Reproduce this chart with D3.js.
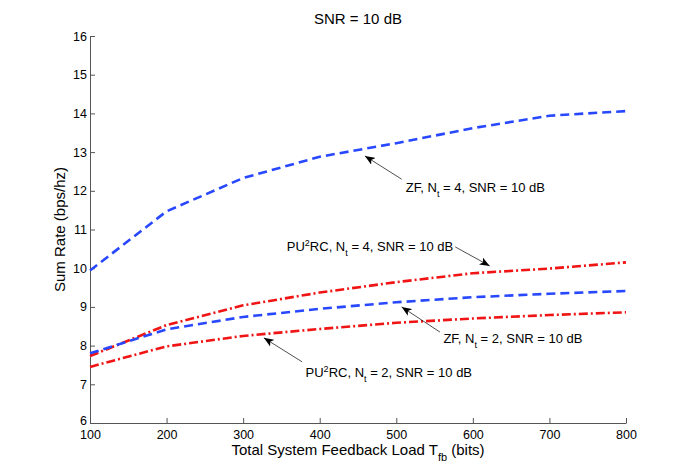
<!DOCTYPE html>
<html>
<head>
<meta charset="utf-8">
<script src="https://cdn.jsdelivr.net/npm/d3@7"></script>
<style>
  body { margin: 0; background: #fff; }
  text { font-family: "Liberation Sans", Arial, Helvetica, sans-serif; }
</style>
</head>
<body>
<div id="chart"></div>
<script>
// feedback load (bits) on the x axis
const feedbackBits = [100, 200, 300, 400, 500, 600, 700, 800];

// sum rate values
const zfNt4 = [9.94, 11.47, 12.33, 12.88, 13.23, 13.62, 13.94, 14.06];
const zfNt2 = [7.80, 8.42, 8.74, 8.95, 9.12, 9.25, 9.34, 9.41];
const pu2rcNt4 = [7.73, 8.53, 9.04, 9.37, 9.64, 9.87, 9.99, 10.15];
const pu2rcNt2 = [7.45, 7.98, 8.25, 8.43, 8.59, 8.70, 8.79, 8.86];

const xTicks = [100, 200, 300, 400, 500, 600, 700, 800];
const yTicks = [6, 7, 8, 9, 10, 11, 12, 13, 14, 15, 16];

// annotation text + arrow (head / tail in data units)
const notes = [
  { pre: "ZF, N", sup: null, mid: "", nt: "4", head: [459, 12.90], tail: [507, 12.30], text: [512.5, 11.98] },
  { pre: "PU", sup: "2", mid: "RC, N", nt: "4", head: [622, 10.06], tail: [577, 10.55], text: [357, 10.45] },
  { pre: "ZF, N", sup: null, mid: "", nt: "2", head: [507, 9.00], tail: [557, 8.35], text: [561.5, 8.07] },
  { pre: "PU", sup: "2", mid: "RC, N", nt: "2", head: [327, 8.20], tail: [377, 7.58], text: [381.5, 7.19] }
];

const width = 692;
const height = 476;
const margin = { top: 36, right: 66, bottom: 53, left: 90 };

const svg = d3.select("#chart")
  .append("svg")
  .attr("width", width)
  .attr("height", height)
  .style("background", "#fff");

const x = d3.scaleLinear().domain([100, 800]).range([margin.left, width - margin.right]);
const y = d3.scaleLinear().domain([6, 16]).range([height - margin.bottom, margin.top]);

// arrow head
const defs = svg.append("defs");
defs.append("marker")
  .attr("id", "arrow")
  .attr("viewBox", "0 0 10 8")
  .attr("refX", 10)
  .attr("refY", 4)
  .attr("markerUnits", "userSpaceOnUse")
  .attr("markerWidth", 10)
  .attr("markerHeight", 8)
  .attr("orient", "auto")
  .append("path")
  .attr("d", "M0,0 L10,4 L0,8 L2.5,4 Z")
  .attr("fill", "#000");

// axes, MATLAB style ticks pointing inward
const xAxis = svg.append("g")
  .attr("transform", `translate(0,${y(6)})`)
  .call(d3.axisBottom(x).tickValues(xTicks).tickSize(-5).tickSizeOuter(0).tickPadding(7));

const yAxis = svg.append("g")
  .attr("transform", `translate(${x(100)},0)`)
  .call(d3.axisLeft(y).tickValues(yTicks).tickSize(-5).tickSizeOuter(0).tickPadding(3));

[xAxis, yAxis].forEach(g => {
  g.select(".domain").attr("stroke", "#555");
  g.selectAll(".tick line").attr("stroke", "#555");
  g.selectAll(".tick text")
    .attr("fill", "#000")
    .style("font-size", "12.5px");
});

// lowest y label sits a touch higher, as in the original
yAxis.selectAll(".tick text").filter(d => d === 6).attr("dy", "0.1em");

// series
const line = d3.line()
  .x((d, i) => x(feedbackBits[i]))
  .y(d => y(d));

const series = [
  { values: pu2rcNt4, color: "#f01414", dash: "9,3,2,3" },
  { values: pu2rcNt2, color: "#f01414", dash: "9,3,2,3" },
  { values: zfNt2, color: "#2848ff", dash: "9,5" },
  { values: zfNt4, color: "#2848ff", dash: "9,5" }
];

series.forEach(s => {
  svg.append("path")
    .datum(s.values)
    .attr("d", line)
    .attr("fill", "none")
    .attr("stroke", s.color)
    .attr("stroke-width", 2.6)
    .attr("stroke-dasharray", s.dash);
});

// annotations
notes.forEach(n => {
  svg.append("line")
    .attr("x1", x(n.tail[0]))
    .attr("y1", y(n.tail[1]))
    .attr("x2", x(n.head[0]))
    .attr("y2", y(n.head[1]))
    .attr("stroke", "#222")
    .attr("stroke-width", 0.8)
    .attr("marker-end", "url(#arrow)");

  const t = svg.append("text")
    .attr("x", x(n.text[0]))
    .attr("y", y(n.text[1]))
    .style("font-size", "13px")
    .attr("fill", "#000");
  t.append("tspan").text(n.pre);
  if (n.sup) {
    t.append("tspan").attr("dy", -5).style("font-size", "9px").text(n.sup);
    t.append("tspan").attr("dy", 5).text(n.mid);
  }
  t.append("tspan").attr("dy", 5).style("font-size", "9px").text("t");
  t.append("tspan").attr("dy", -5).text(` = ${n.nt}, SNR = 10 dB`);
});

// title and axis labels
svg.append("text")
  .attr("x", (x(100) + x(800)) / 2)
  .attr("y", 24)
  .attr("text-anchor", "middle")
  .style("font-size", "15px")
  .text("SNR = 10 dB");

const xl = svg.append("text")
  .attr("x", (x(100) + x(800)) / 2)
  .attr("y", 455)
  .attr("text-anchor", "middle")
  .style("font-size", "15px");
xl.append("tspan").text("Total System Feedback Load T");
xl.append("tspan").attr("dy", 6).style("font-size", "11px").text("fb");
xl.append("tspan").attr("dy", -6).text(" (bits)");

svg.append("text")
  .attr("transform", `translate(65,${(y(6) + y(16)) / 2}) rotate(-90)`)
  .attr("text-anchor", "middle")
  .style("font-size", "15px")
  .text("Sum Rate (bps/hz)");
</script>
</body>
</html>
